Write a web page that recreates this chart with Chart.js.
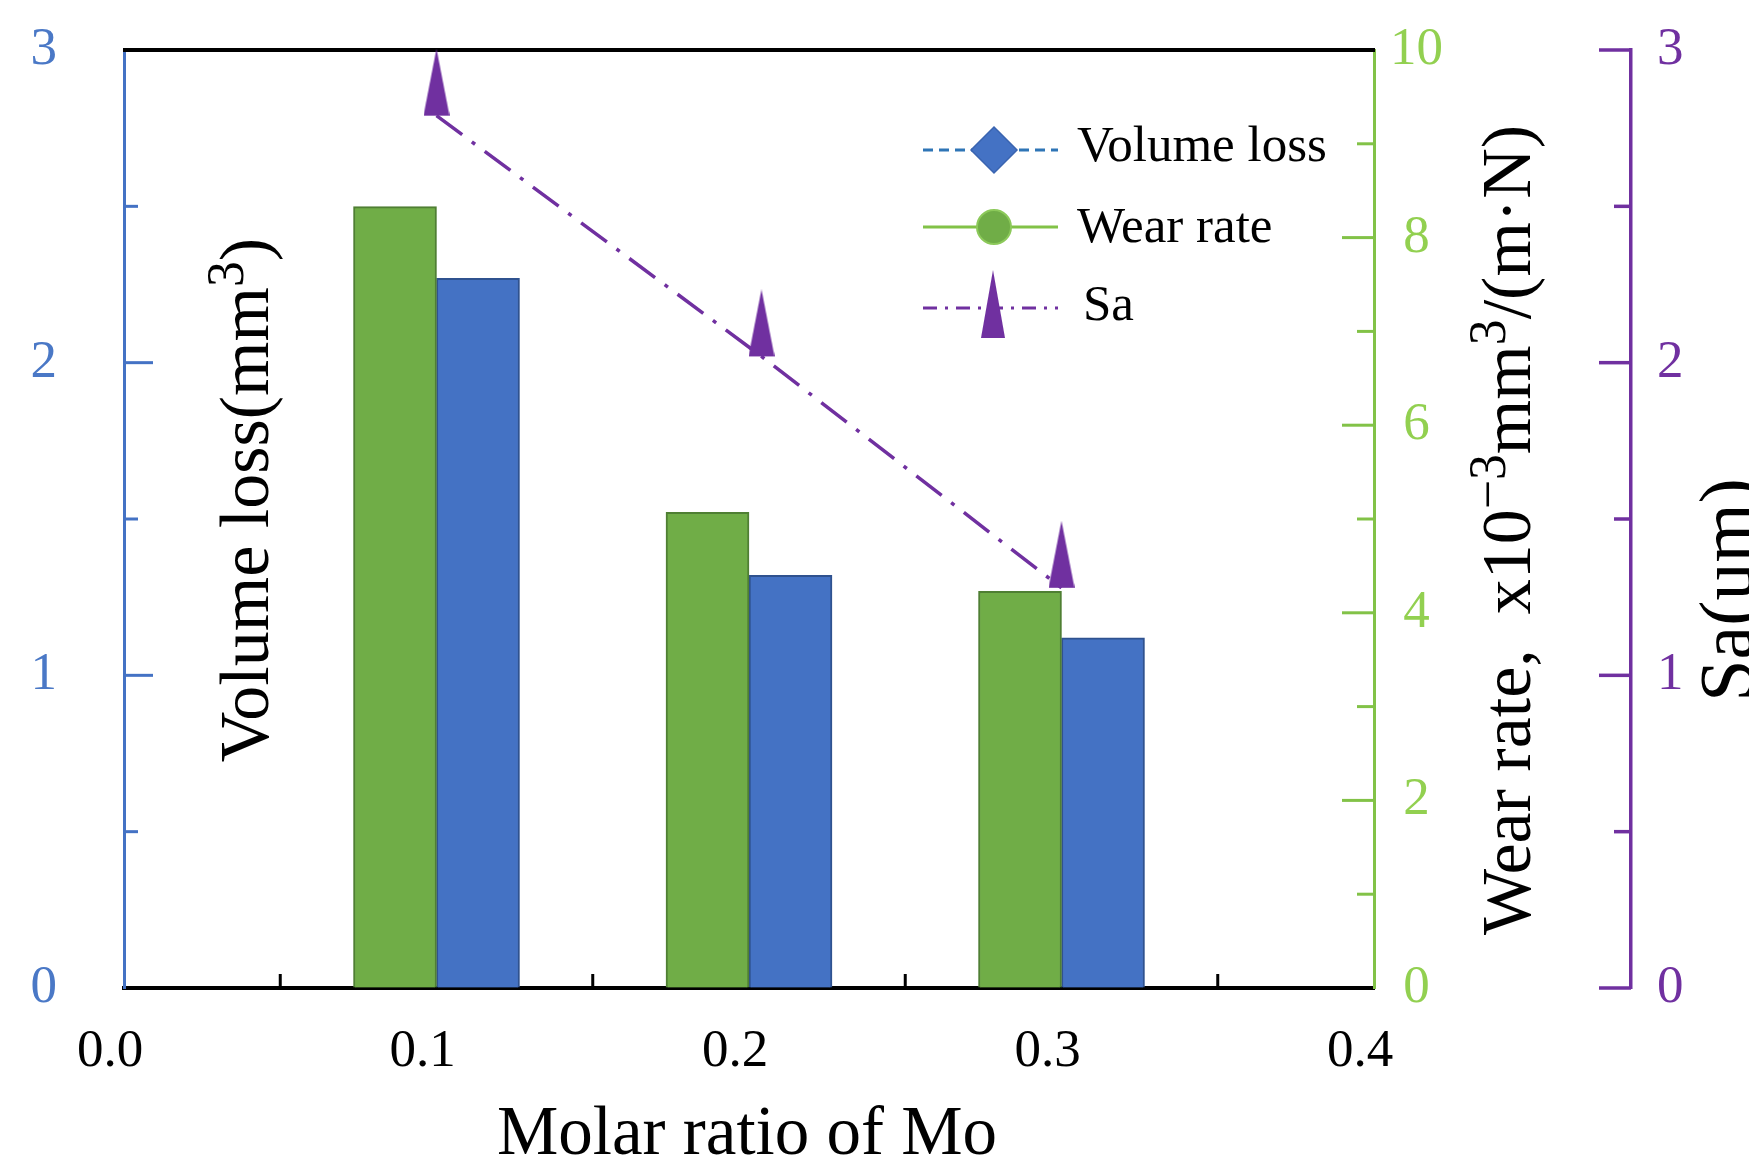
<!DOCTYPE html>
<html>
<head>
<meta charset="utf-8">
<script src="https://cdn.jsdelivr.net/npm/chart.js@4.4.1/dist/chart.umd.min.js"></script>
<style>
html, body { margin: 0; padding: 0; background: #ffffff; }
#wrap { width: 1749px; height: 1165px; }
</style>
</head>
<body>
<div id="wrap"><canvas id="c" width="1749" height="1165"></canvas></div>
<script>
// ---------------- data ----------------
const molarRatio   = [0.1, 0.2, 0.3];
const volumeLoss   = [2.27, 1.32, 1.12];     // mm^3 (left axis)
const wearRate     = [8.33, 5.07, 4.23];     // x10^-3 mm^3/(m·N) (green axis)
const saRatio      = [0.1, 0.204, 0.3];
const saValues     = [2.79, 2.02, 1.28];     // Sa (purple axis)

const xTicks        = [0.0, 0.1, 0.2, 0.3, 0.4];
const xMinorTicks   = [0.05, 0.15, 0.25, 0.35];
const volTicks      = [0, 1, 2, 3];
const volMinorTicks = [0.5, 1.5, 2.5];
const wearTicks     = [0, 2, 4, 6, 8, 10];
const wearMinorTicks= [1, 3, 5, 7, 9];
const saTicks       = [0, 1, 2, 3];
const saMinorTicks  = [0.5, 1.5, 2.5];

const legendLabels = ['Volume loss', 'Wear rate', 'Sa'];
const xTitle = 'Molar ratio of Mo';

// ---------------- styles ----------------
const SERIF = '"Liberation Serif", "Times New Roman", serif';
const BLUE = '#4472c4', BLUE_LABEL = '#4a78c6';
const GREEN = '#70ad47', GREEN_AXIS = '#82c247', GREEN_LABEL = '#92d050';
const PURPLE = '#7030a0';

// elongated triangle marker anchored at its base (drawn in upper half of image)
function makeTriangle(w, h, color) {
  const cv = document.createElement('canvas');
  cv.width = w; cv.height = h * 2;
  const c = cv.getContext('2d');
  c.fillStyle = color;
  c.beginPath();
  c.moveTo(w / 2, 0);
  c.lineTo(w, h);
  c.lineTo(0, h);
  c.closePath();
  c.fill();
  return cv;
}
const triMarker = makeTriangle(26, 67, PURPLE);

function pts(xs, ys) { return xs.map((x, i) => ({ x: x, y: ys[i] })); }

function drawRich(ctx, parts, size, cx, cy, rotate) {
  ctx.save();
  ctx.translate(cx, cy);
  if (rotate) ctx.rotate(-Math.PI / 2);
  let total = 0;
  parts.forEach(p => {
    ctx.font = (p.sup ? size * 0.74 : size) + 'px ' + SERIF;
    total += ctx.measureText(p.t).width;
  });
  let x = -total / 2;
  ctx.textBaseline = 'alphabetic';
  ctx.textAlign = 'left';
  ctx.fillStyle = '#000';
  parts.forEach(p => {
    const s = p.sup ? size * 0.74 : size;
    ctx.font = s + 'px ' + SERIF;
    ctx.fillText(p.t, x, p.sup ? -size * 0.36 : 0);
    x += ctx.measureText(p.t).width;
  });
  ctx.restore();
}

const decoPlugin = {
  id: 'deco',
  beforeDatasetsDraw(chart) {
    const ctx = chart.ctx;
    const ca = chart.chartArea;
    const sx = chart.scales.x, sv = chart.scales.yVol, sw = chart.scales.yWear, ss = chart.scales.ySa;
    ctx.save();
    ctx.lineCap = 'butt';
    // top border
    ctx.strokeStyle = '#000'; ctx.lineWidth = 4;
    ctx.beginPath(); ctx.moveTo(ca.left - 1, ca.top); ctx.lineTo(ca.right + 1, ca.top); ctx.stroke();

    function hTicks(scale, xPos, values, len, dir, color, width, inner) {
      ctx.strokeStyle = color; ctx.lineWidth = width;
      values.forEach(v => {
        if (inner && (v <= scale.min || v >= scale.max)) return;
        const y = scale.getPixelForValue(v);
        ctx.beginPath(); ctx.moveTo(xPos, y); ctx.lineTo(xPos + dir * len, y); ctx.stroke();
      });
    }
    hTicks(sv, ca.left, volTicks, 29, 1, BLUE, 3, true);
    hTicks(sv, ca.left, volMinorTicks, 14, 1, BLUE, 3, true);
    hTicks(sw, ca.right, wearTicks, 32, -1, GREEN_AXIS, 3, true);
    hTicks(sw, ca.right, wearMinorTicks, 17, -1, GREEN_AXIS, 3, true);
    hTicks(ss, ss.left, saTicks, 32, -1, PURPLE, 3.5, false);
    hTicks(ss, ss.left, saMinorTicks, 17, -1, PURPLE, 3.5, true);
    ctx.strokeStyle = '#000'; ctx.lineWidth = 3;
    xMinorTicks.forEach(v => {
      const x = sx.getPixelForValue(v);
      ctx.beginPath(); ctx.moveTo(x, ca.bottom); ctx.lineTo(x, ca.bottom - 14); ctx.stroke();
    });
    ctx.restore();
  },
  afterDraw(chart) {
    const ctx = chart.ctx;
    drawRich(ctx, [{ t: xTitle }], 69, 747, 1154, false);
    drawRich(ctx, [{ t: 'Volume loss(mm' }, { t: '3', sup: true }, { t: ')' }], 70, 268, 500, true);
    drawRich(ctx, [{ t: 'Wear rate,  x10' }, { t: '\u22123', sup: true }, { t: 'mm' }, { t: '3', sup: true }, { t: '/(m\u00b7N)' }], 70, 1530, 530, true);
    drawRich(ctx, [{ t: 'Sa(um)' }], 76, 1752, 590, true);

    ctx.save();
    const lx0 = 923, lx1 = 1058, mx = 994, tx = 1077;
    ctx.setLineDash([10, 6]); ctx.strokeStyle = '#2e75b6'; ctx.lineWidth = 3;
    ctx.beginPath(); ctx.moveTo(lx0, 150); ctx.lineTo(lx1, 150); ctx.stroke();
    ctx.setLineDash([]);
    ctx.fillStyle = BLUE; ctx.strokeStyle = '#3a64b0'; ctx.lineWidth = 1.5;
    ctx.beginPath(); ctx.moveTo(mx, 127); ctx.lineTo(mx + 23, 150); ctx.lineTo(mx, 173); ctx.lineTo(mx - 23, 150); ctx.closePath(); ctx.fill(); ctx.stroke();
    ctx.strokeStyle = GREEN_AXIS; ctx.lineWidth = 3;
    ctx.beginPath(); ctx.moveTo(lx0, 227); ctx.lineTo(lx1, 227); ctx.stroke();
    ctx.fillStyle = GREEN; ctx.strokeStyle = '#8cc95a'; ctx.lineWidth = 2;
    ctx.beginPath(); ctx.arc(mx, 227, 17, 0, Math.PI * 2); ctx.fill(); ctx.stroke();
    ctx.setLineDash([14, 8, 3, 8]); ctx.strokeStyle = PURPLE; ctx.lineWidth = 3;
    ctx.beginPath(); ctx.moveTo(lx0, 308); ctx.lineTo(lx1, 308); ctx.stroke();
    ctx.setLineDash([]);
    ctx.fillStyle = PURPLE;
    ctx.beginPath(); ctx.moveTo(mx - 1, 270); ctx.lineTo(mx + 11, 338); ctx.lineTo(mx - 13, 338); ctx.closePath(); ctx.fill();
    ctx.fillStyle = '#000'; ctx.font = '51px ' + SERIF; ctx.textBaseline = 'alphabetic'; ctx.textAlign = 'left';
    ctx.fillText(legendLabels[0], tx, 161);
    ctx.fillText(legendLabels[1], tx, 242);
    ctx.fillText(legendLabels[2], tx + 6, 320);
    ctx.restore();
  }
};

const tickFont = { family: SERIF, size: 53 };

function fitV(w) {
  return s => { s.width = w; s.paddingTop = 0; s.paddingBottom = 0; };
}

new Chart(document.getElementById('c'), {
  data: {
    datasets: [
      {
        type: 'line', label: legendLabels[2], data: pts(saRatio, saValues),
        xAxisID: 'x', yAxisID: 'ySa', order: 0,
        borderColor: PURPLE, borderWidth: 3.5, borderDash: [32, 12, 4, 12],
        pointStyle: triMarker, pointRadius: 20, pointHoverRadius: 20,
        fill: false, tension: 0, clip: false
      },
      {
        type: 'bar', label: legendLabels[1], data: pts(molarRatio, wearRate),
        xAxisID: 'x', yAxisID: 'yWear', order: 1,
        backgroundColor: GREEN, borderColor: '#4f7f33', borderWidth: 2,
        barThickness: 83
      },
      {
        type: 'bar', label: legendLabels[0], data: pts(molarRatio, volumeLoss),
        xAxisID: 'x', yAxisID: 'yVol', order: 1,
        backgroundColor: BLUE, borderColor: '#2f528f', borderWidth: 2,
        barThickness: 83
      }
    ]
  },
  options: {
    responsive: false,
    maintainAspectRatio: false,
    animation: false,
    devicePixelRatio: 1,
    layout: { padding: { top: 50, left: 0, right: 0, bottom: 0 } },
    plugins: { legend: { display: false }, tooltip: { enabled: false } },
    scales: {
      x: {
        type: 'linear', position: 'bottom', min: 0, max: 0.4, offset: false,
        afterBuildTicks: s => { s.ticks = xTicks.map(v => ({ value: v })); },
        afterFit: s => { s.height = 177; s.paddingLeft = 0; s.paddingRight = 0; },
        grid: { display: true, offset: false, drawOnChartArea: false, drawTicks: false },
        border: { display: true, color: '#000', width: 4 },
        ticks: {
          font: tickFont, color: '#000', padding: 32, labelOffset: -14,
          maxRotation: 0, autoSkip: false,
          callback: v => Number(v).toFixed(1)
        }
      },
      yVol: {
        type: 'linear', position: 'left', min: 0, max: 3,
        afterBuildTicks: s => { s.ticks = volTicks.map(v => ({ value: v })); },
        afterFit: fitV(124),
        grid: { display: true, drawOnChartArea: false, drawTicks: false },
        border: { display: true, color: BLUE, width: 3 },
        ticks: { font: tickFont, color: BLUE_LABEL, padding: 67, callback: v => String(v) }
      },
      yWear: {
        type: 'linear', position: 'right', min: 0, max: 10, weight: 0,
        afterBuildTicks: s => { s.ticks = wearTicks.map(v => ({ value: v })); },
        afterFit: fitV(257),
        grid: { display: true, drawOnChartArea: false, drawTicks: false },
        border: { display: true, color: GREEN_AXIS, width: 3 },
        ticks: { font: tickFont, color: GREEN_LABEL, padding: 16, crossAlign: 'center', callback: v => String(v) }
      },
      ySa: {
        type: 'linear', position: 'right', min: 0, max: 3, weight: 1,
        afterBuildTicks: s => { s.ticks = saTicks.map(v => ({ value: v })); },
        afterFit: fitV(118),
        grid: { display: true, drawOnChartArea: false, drawTicks: false },
        border: { display: true, color: PURPLE, width: 3.5 },
        ticks: { font: tickFont, color: PURPLE, padding: 26, callback: v => String(v) }
      }
    }
  },
  plugins: [decoPlugin]
});
</script>
</body>
</html>
